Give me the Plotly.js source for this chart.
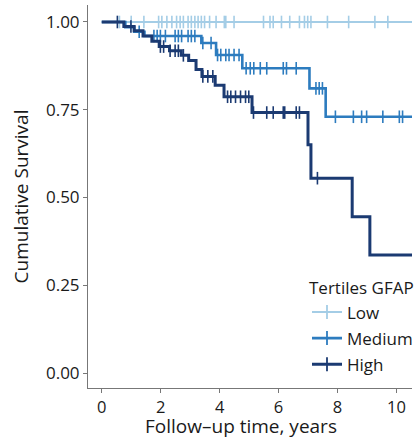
<!DOCTYPE html>
<html>
<head>
<meta charset="utf-8">
<script src="https://cdn.plot.ly/plotly-3.0.1.min.js"></script>
<style>
html,body{margin:0;padding:0;background:#fff;overflow:hidden;}
#chart{width:418px;height:440px;}
</style>
</head>
<body>
<div id="chart"></div>
<script>
// Group labels
var groups = ["Low", "Medium", "High"];
var legendTitle = "Tertiles GFAP";
var xTitle = "Follow–up time, years";
var yTitle = "Cumulative Survival";

// Event times (years) and survival after each event
var lowEventTimes = [];
var lowSurvival = [];
var lowCensor = [0.6, 1.0, 1.43, 1.93, 2.04, 2.21, 2.38, 2.54, 2.66, 2.77, 2.93, 3.04, 3.16, 3.27, 3.38, 3.49, 3.66, 3.88, 4.16, 4.21, 4.49, 5.49, 5.71, 5.82, 6.1, 6.38, 6.71, 6.88, 6.99, 7.1, 7.66, 8.38, 9.27, 9.71];
var lowEnd = 10.53;

var medEventTimes = [0.8, 1.1, 1.45, 3.38, 3.88, 4.77, 7.05, 7.6];
var medSurvival   = [0.985, 0.972, 0.96, 0.94, 0.906, 0.868, 0.811, 0.730];
var medCensor = [1.27, 1.77, 1.88, 1.99, 2.16, 2.49, 2.6, 2.71, 2.93, 3.04, 3.16, 3.43, 3.71, 3.93, 4.04, 4.21, 4.32, 4.49, 4.66, 4.9, 5.04, 5.16, 5.38, 5.6, 6.16, 6.27, 6.6, 7.27, 7.38, 7.49, 7.93, 8.54, 8.82, 8.99, 9.54, 10.1, 10.21];
var medEnd = 10.53;

var highEventTimes = [0.75, 1.1, 1.4, 1.7, 1.95, 2.3, 2.7, 2.95, 3.2, 3.4, 3.85, 4.15, 5.1, 7.0, 7.1, 8.5, 9.1];
var highSurvival   = [0.987, 0.975, 0.96, 0.945, 0.93, 0.918, 0.905, 0.89, 0.865, 0.845, 0.82, 0.787, 0.742, 0.65, 0.555, 0.445, 0.336];
var highCensor = [0.53, 0.99, 1.99, 2.1, 2.32, 2.49, 2.6, 2.77, 3.43, 3.6, 3.77, 4.27, 4.38, 4.54, 4.71, 4.88, 4.99, 5.15, 5.6, 5.82, 6.16, 6.21, 6.6, 6.71, 7.32];
var highEnd = 10.53;

var colors = ["#a4cde6", "#2d7cbf", "#1b3a72"];
var widths = [2, 2.6, 3];

function stepXY(times, surv, end) {
  var x = [0], y = [1];
  for (var i = 0; i < times.length; i++) { x.push(times[i]); y.push(surv[i]); }
  x.push(end); y.push(surv.length ? surv[surv.length - 1] : 1);
  return {x: x, y: y};
}
function survAt(times, surv, t) {
  var s = 1;
  for (var i = 0; i < times.length; i++) { if (times[i] <= t) s = surv[i]; }
  return s;
}

var sets = [
  [lowEventTimes, lowSurvival, lowCensor, lowEnd],
  [medEventTimes, medSurvival, medCensor, medEnd],
  [highEventTimes, highSurvival, highCensor, highEnd]
];

var traces = [];
sets.forEach(function (s, k) {
  var st = stepXY(s[0], s[1], s[3]);
  traces.push({
    x: st.x, y: st.y, mode: "lines", type: "scatter",
    line: {shape: "hv", color: colors[k], width: widths[k]},
    showlegend: false, hoverinfo: "skip", legendgroup: groups[k]
  });
  traces.push({
    x: s[2], y: s[2].map(function (t) { return survAt(s[0], s[1], t); }),
    mode: "markers", type: "scatter",
    marker: {symbol: "line-ns-open", size: 9, color: colors[k], line: {color: colors[k], width: 1.6}},
    showlegend: false, hoverinfo: "skip", legendgroup: groups[k]
  });
});
// legend entries
sets.forEach(function (s, k) {
  traces.push({
    x: [null], y: [null], mode: "lines+markers", type: "scatter",
    name: groups[k], legendgroup: groups[k],
    line: {color: colors[k], width: widths[k]},
    marker: {symbol: "line-ns-open", size: 10, color: colors[k], line: {color: colors[k], width: 1.8}}
  });
});

var font = "Open Sans, Noto Sans, sans-serif";
var layout = {
  width: 418, height: 440,
  margin: {l: 88, r: 0, t: 5, b: 52},
  paper_bgcolor: "#fff", plot_bgcolor: "#fff",
  font: {family: font, color: "#1a1a1a", size: 16},
  showlegend: true,
  legend: {
    x: 0.676, y: 0.302, xanchor: "left", yanchor: "top",
    bgcolor: "rgba(0,0,0,0)",
    title: {text: legendTitle, font: {size: 17}},
    font: {size: 17},
    tracegroupgap: 1,
    traceorder: "grouped"
  },
  xaxis: {
    range: [-0.467, 10.53], tickvals: [0, 2, 4, 6, 8, 10],
    ticks: "outside", ticklen: 4, tickcolor: "#777", tickwidth: 1,
    showline: true, linecolor: "#777", linewidth: 1,
    showgrid: false, zeroline: false,
    tickfont: {size: 16.5}
  },
  yaxis: {
    range: [-0.0427, 1.0484], tickvals: [0, 0.25, 0.5, 0.75, 1],
    tickformat: ".2f",
    ticks: "outside", ticklen: 4, tickcolor: "#777", tickwidth: 1,
    showline: true, linecolor: "#777", linewidth: 1,
    showgrid: false, zeroline: false,
    tickfont: {size: 17},
    title: {text: yTitle, font: {size: 19}, standoff: 12}
  },
  annotations: [{
    text: xTitle, xref: "paper", yref: "paper",
    x: 0.473, y: -0.098, xanchor: "center", yanchor: "middle",
    showarrow: false, font: {size: 19, color: "#1a1a1a", family: font}
  }]
};

Plotly.newPlot("chart", traces, layout, {displayModeBar: false, staticPlot: true});
</script>
</body>
</html>
